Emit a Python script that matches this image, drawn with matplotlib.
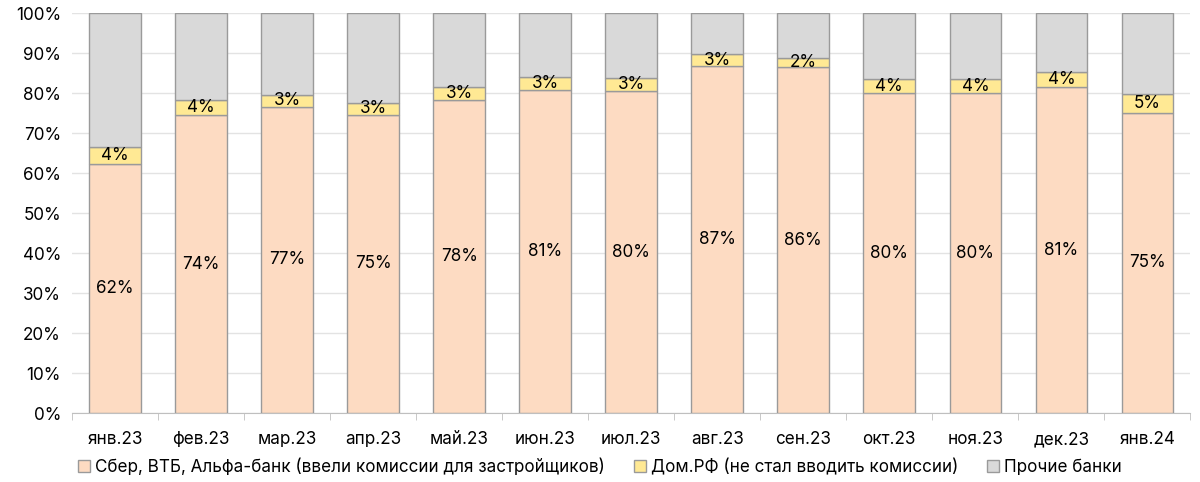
import numpy as np
import matplotlib.pyplot as plt
from matplotlib.ticker import FixedLocator

plt.rcParams['font.family'] = ['Inter', 'DejaVu Sans']

months = ['янв.23', 'фев.23', 'мар.23', 'апр.23', 'май.23', 'июн.23', 'июл.23',
          'авг.23', 'сен.23', 'окт.23', 'ноя.23', 'дек.23', 'янв.24']
big3 = [62.3, 74.5, 76.6, 74.6, 78.3, 80.8, 80.5, 86.8, 86.4, 79.9, 79.9, 81.4, 75.1]
domrf = [4.2, 3.8, 2.9, 2.9, 3.2, 3.2, 3.2, 2.9, 2.4, 3.6, 3.6, 3.8, 4.6]
others = [100 - a - b for a, b in zip(big3, domrf)]

names = ['Сбер, ВТБ, Альфа-банк (ввели комиссии для застройщиков)',
         'Дом.РФ (не стал вводить комиссии)',
         'Прочие банки']
colors = ['#FDDBC2', '#FFE994', '#D9D9D9']
fs = 12.3

fig = plt.figure(figsize=(12, 4.82), dpi=100)
ax = fig.add_axes([0.06, 0.143, 0.932, 0.83])

x = np.arange(len(months))
w = 0.6
b1 = ax.bar(x, big3, w, color=colors[0], edgecolor='#9A9A9A', linewidth=1, label=names[0], zorder=3)
b2 = ax.bar(x, domrf, w, bottom=big3, color=colors[1], edgecolor='#9A9A9A', linewidth=1, label=names[1], zorder=3)
bot = np.array(big3) + np.array(domrf)
b3 = ax.bar(x, others, w, bottom=bot, color=colors[2], edgecolor='#9A9A9A', linewidth=1, label=names[2], zorder=3)

for i in range(len(months)):
    ax.text(x[i], big3[i] / 2, '%d%%' % round(big3[i]), ha='center', va='center', fontsize=fs, zorder=4)
    ax.text(x[i], big3[i] + domrf[i] / 2, '%d%%' % round(domrf[i]), ha='center', va='center', fontsize=fs, zorder=4)

ax.set_ylim(0, 100)
ax.set_xlim(-0.5, len(months) - 0.5)
ax.set_yticks(np.arange(0, 101, 10))
ax.set_yticklabels(['%d%%' % v for v in range(0, 101, 10)], fontsize=fs)
ax.set_xticks(x)
ax.set_xticklabels(months, fontsize=fs)
ax.xaxis.set_minor_locator(FixedLocator(np.arange(-0.5, len(months), 1)))
ax.tick_params(axis='x', which='major', length=0, pad=13)
ax.tick_params(axis='x', which='minor', length=5, color='#BFBFBF')
ax.tick_params(axis='y', length=0, pad=8)
ax.grid(axis='y', color='#E3E3E3', linewidth=1, zorder=0)
for s in ['top', 'right', 'left']:
    ax.spines[s].set_visible(False)
ax.spines['bottom'].set_color('#BFBFBF')

fig.legend(handles=[b1, b2, b3], labels=names, loc='center', bbox_to_anchor=(0.5, 0.03),
           ncol=3, frameon=False, fontsize=fs, handlelength=0.7, handleheight=0.7,
           handletextpad=0.3, columnspacing=1.7)

plt.savefig('out.png', dpi=100)
